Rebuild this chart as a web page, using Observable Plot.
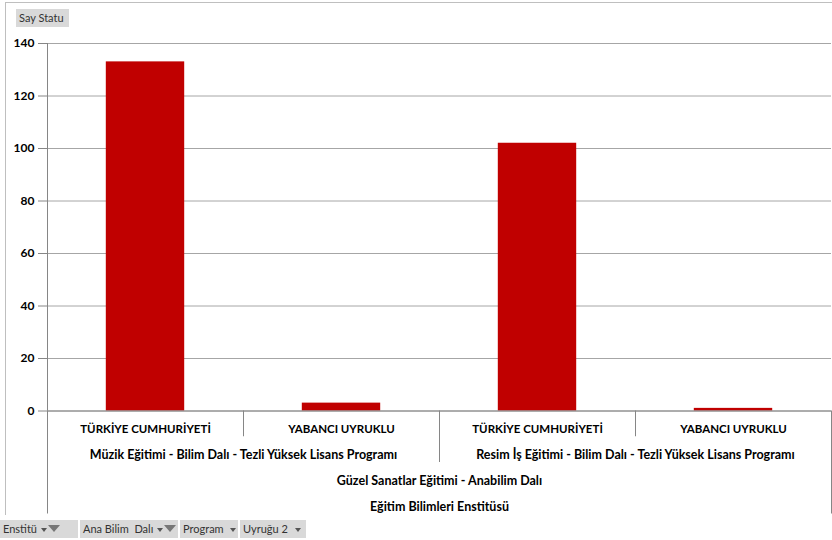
<!DOCTYPE html>
<html>
<head>
<meta charset="utf-8">
<script src="https://cdn.jsdelivr.net/npm/d3@7"></script>
<script src="https://cdn.jsdelivr.net/npm/@observablehq/plot@0.6"></script>
<style>
  html, body { margin: 0; padding: 0; background: #fff; }
  body { width: 832px; height: 540px; position: relative; overflow: hidden; font-family: Lato, "Noto Sans", sans-serif; }
  #frame { position: absolute; left: 5px; top: 2px; width: 840px; height: 513px; border-left: 1px solid #bfbfbf; border-top: 1px solid #bfbfbf; box-sizing: border-box; }
  #main { position: absolute; left: 0; top: 0; }
  #axis { position: absolute; left: 0; top: 410px; }
  .btn { position: absolute; background: #d9d9d9; color: #333; font-size: 11px; line-height: 18px; height: 18px; padding: 0 3px; box-sizing: border-box; white-space: nowrap; }
  .arrow { display: inline-block; width: 0; height: 0; border-left: 3px solid transparent; border-right: 3px solid transparent; border-top: 4px solid #555; vertical-align: middle; margin-left: 4px; }
  .funnel { display: inline-block; width: 0; height: 0; border-left: 6px solid transparent; border-right: 6px solid transparent; border-top: 7px solid #777; vertical-align: middle; margin-left: 1px; position: relative; top: -2px; }
</style>
</head>
<body>
<div id="frame"></div>
<div id="main"></div>
<div id="axis"></div>
<div class="btn" style="left:16px;top:9px;width:53px;">Say Statu</div>
<div class="btn" style="left:0px;top:520px;width:78px;">Enstitü <span class="arrow" style="margin-left:1px"></span><span class="funnel"></span></div>
<div class="btn" style="left:80px;top:520px;width:98px;">Ana Bilim&nbsp; Dalı <span class="arrow" style="margin-left:1px"></span><span class="funnel"></span></div>
<div class="btn" style="left:180px;top:520px;width:58px;">Program <span class="arrow"></span></div>
<div class="btn" style="left:240px;top:520px;width:66px;">Uyruğu 2 <span class="arrow"></span></div>
<script>
// ---- data ----
const institutes = ["Eğitim Bilimleri Enstitüsü"];
const departments = ["Güzel Sanatlar Eğitimi - Anabilim Dalı"];
const programs = [
  "Müzik Eğitimi - Bilim Dalı - Tezli Yüksek Lisans Programı",
  "Resim İş Eğitimi - Bilim Dalı - Tezli Yüksek Lisans Programı"
];
const nationalities = ["TÜRKİYE CUMHURİYETİ", "YABANCI UYRUKLU"];
const counts = [133, 3, 102, 1];
const yTicks = [0, 20, 40, 60, 80, 100, 120, 140];

// ---- build table ----
const rows = [];
programs.forEach((p) => {
  nationalities.forEach((n) => {
    const i = rows.length;
    rows.push({i, institute: institutes[0], department: departments[0], program: p, nationality: n, value: counts[i]});
  });
});
const N = rows.length;

// hierarchy, innermost first
const keys = ["nationality", "program", "department", "institute"];
const pathKey = (d, level) => keys.slice(level).map(k => d[k]).join("|");

// separators between categories: depth = number of hierarchy levels that change
const seps = [];
for (let b = 0; b <= N; b++) {
  let depth;
  if (b === 0 || b === N) depth = keys.length;
  else {
    const a = rows[b - 1], c = rows[b];
    depth = 1;
    for (let k = keys.length - 1; k >= 1; k--) {
      if (a[keys[k]] !== c[keys[k]]) { depth = k + 1; break; }
    }
  }
  seps.push({x: b, depth});
}
// group labels per level (grouped by full path so repeated names stay separate)
const labels = [];
keys.forEach((k, level) => {
  const groups = d3.groups(rows, d => pathKey(d, level));
  for (const [, items] of groups) {
    labels.push({level, name: items[0][k], x: (d3.min(items, d => d.i) + d3.max(items, d => d.i) + 1) / 2});
  }
});

const font = "Lato, 'Noto Sans', sans-serif";

const main = Plot.plot({
  width: 832,
  height: 422,
  marginLeft: 47,
  marginRight: 1,
  marginTop: 43,
  marginBottom: 11.5,
  style: {fontFamily: font, fontSize: "12px", fontWeight: "bold", color: "#000", background: "transparent", overflow: "visible"},
  x: {domain: [0, N], axis: null},
  y: {domain: [0, 140], axis: null},
  marks: [
    Plot.gridY(yTicks, {stroke: "#a6a6a6", strokeOpacity: 1}),
    Plot.axisY(yTicks, {tickSize: 9, tickPadding: 4, stroke: "#868686", fill: "#000", label: null, tickFormat: d => String(d)}),
    Plot.rectY(rows, {x1: d => d.i + 0.3, x2: d => d.i + 0.7, y: "value", fill: "#C00000"}),
    Plot.ruleX([0], {stroke: "#868686"}),
    Plot.ruleY([0], {stroke: "#868686"})
  ]
});
document.getElementById("main").appendChild(main);

const axis = Plot.plot({
  width: 832,
  height: 104,
  marginLeft: 47,
  marginRight: 1,
  marginTop: 0.5,
  marginBottom: 0.5,
  style: {fontFamily: font, fontSize: "11.5px", fontWeight: "bold", color: "#000", background: "transparent"},
  x: {domain: [0, N], axis: null},
  y: {domain: [0, keys.length], reverse: true, axis: null},
  marks: [
    Plot.ruleX(seps, {x: "x", y1: 0, y2: "depth", stroke: "#868686"}),
    Plot.text(labels, {x: "x", y: d => d.level + 0.5, text: "name", dy: 5.5, fill: "#000", fontWeight: "bold",
      fontSize: d => d.level === 0 ? 11.5 : 12.5})
  ]
});
document.getElementById("axis").appendChild(axis);
</script>
</body>
</html>
